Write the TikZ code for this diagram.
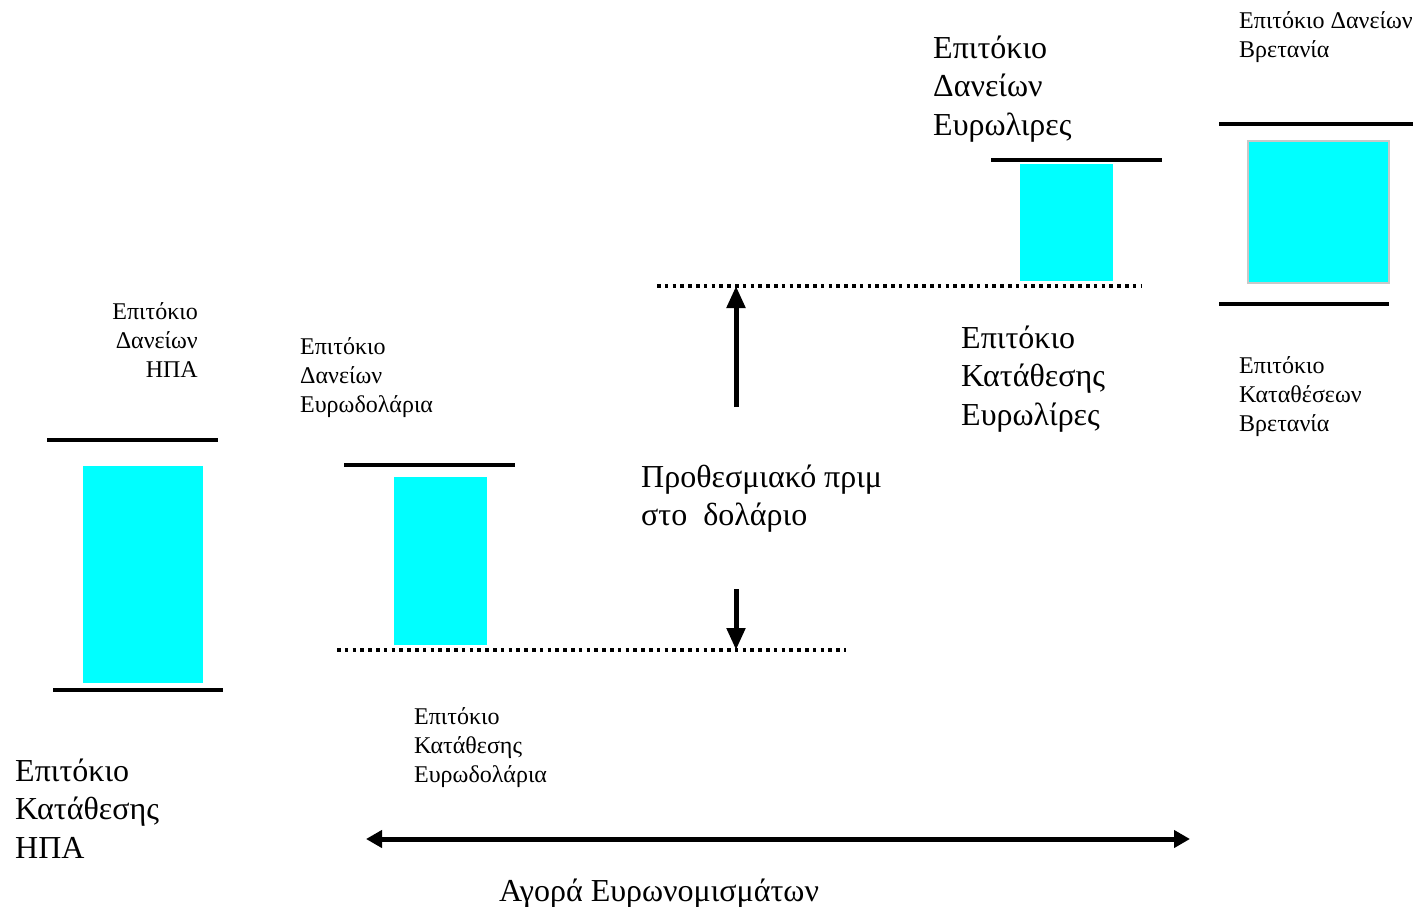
\documentclass[tikz,border=0pt]{standalone}
\usepackage{fontspec}
\setmainfont{Liberation Serif}
\usetikzlibrary{arrows.meta}
\definecolor{aqua}{RGB}{0,255,255}
\definecolor{edgegray}{RGB}{200,200,200}
\tikzset{
  small/.style={font=\fontsize{24}{29}\selectfont, inner sep=0pt, align=left, anchor=base west},
  big/.style={font=\fontsize{32}{38.5}\selectfont, inner sep=0pt, align=left, anchor=base west},
  bar/.style={line width=4pt},
  dots/.style={line width=3.6pt, dash pattern=on 3.6pt off 4.2pt},
  thickarrow/.style={line width=5pt, -{Triangle[width=18pt,length=22pt]}},
  dblarrow/.style={line width=5pt, {Triangle[width=17pt,length=16pt]}-{Triangle[width=17pt,length=16pt]}}
}
\begin{document}
\begin{tikzpicture}[x=1pt,y=-1pt]
\useasboundingbox (0,0) rectangle (1413,907);
% Left group (USA)
\draw[bar] (47,440) -- (218,440);
\fill[aqua] (83,466) rectangle (203,683);
\draw[bar] (53,690) -- (223,690);
\node[small, align=right, anchor=base east] (usaL) at (198,377) {Επιτόκιο\\Δανείων\\ΗΠΑ};
\node[big] (usaD) at (15,858) {Επιτόκιο\\Κατάθεσης\\ΗΠΑ};
% Eurodollar group
\draw[bar] (344,465) -- (515,465);
\fill[aqua] (394,477) rectangle (487,645);
\draw[dots] (337,650) -- (846,650);
\node[small] (edL) at (300,412) {Επιτόκιο\\Δανείων\\Ευρωδολάρια};
\node[small] (edD) at (414,782) {Επιτόκιο\\Κατάθεσης\\Ευρωδολάρια};
% Forward premium
\coordinate (upS) at (736,407);
\coordinate (upE) at (736,286);
\coordinate (dnS) at (736,589);
\coordinate (dnE) at (736,650);
\draw[thickarrow] (upS) -- (upE);
\draw[thickarrow] (dnS) -- (dnE);
\node[big] (fwd) at (641,525.5) {Προθεσμιακό πριμ\\στο\ \ δολάριο};
\draw[dots] (657,286) -- (1141,286);
% Eurolira group
\draw[bar] (991,160) -- (1162,160);
\fill[aqua] (1020,164) rectangle (1113,281);
\node[big] (elL) at (933,135) {Επιτόκιο\\Δανείων\\Ευρωλιρες};
\node[big] (elD) at (961,425) {Επιτόκιο\\Κατάθεσης\\Ευρωλίρες};
% Britain group
\draw[bar] (1219,124) -- (1413,124);
\draw[fill=aqua, draw=edgegray, line width=2pt] (1248,141) rectangle (1389,283);
\draw[bar] (1219,304) -- (1389,304);
\node[small] (brL) at (1239,58) {Επιτόκιο Δανείων\\Βρετανία};
\node[small] (brD) at (1239,431) {Επιτόκιο\\Καταθέσεων\\Βρετανία};
% Euro market
\coordinate (mL) at (366,839);
\coordinate (mR) at (1190,839);
\draw[dblarrow] (mL) -- (mR);
\node[big, anchor=base] (market) at (659,901) {Αγορά Ευρωνομισμάτων};
\end{tikzpicture}
\end{document}
